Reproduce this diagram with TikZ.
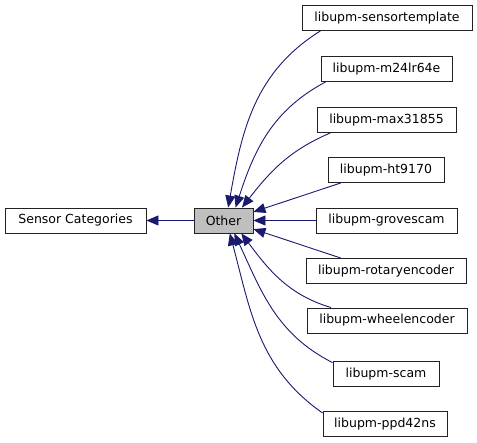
\documentclass[tikz,border=0pt]{standalone}
\usepackage{fontspec}
\setmainfont{DejaVu Sans}
\usetikzlibrary{arrows.meta}
\definecolor{edgeblue}{HTML}{191970}
\definecolor{current}{HTML}{BFBFBF}
\definecolor{boxline}{HTML}{222222}
\tikzset{
  groupbox/.style={draw=boxline, line width=0.9pt, fill=white, inner sep=0pt,
    minimum height=25pt, font=\fontsize{12.5}{15}\selectfont},
  curbox/.style={groupbox, fill=current},
  arr/.style={-{Triangle[length=12pt,width=10pt]}, line width=0.9pt, draw=edgeblue}
}
\begin{document}
\begin{tikzpicture}[x=1pt, y=-1pt]
    \useasboundingbox (0,0) rectangle (477,443);
    \node[groupbox, minimum width=141pt] (cats) at (75.5,220.5) {Sensor Categories};
    \node[curbox, minimum width=59pt] (other) at (223.5,220.5) {Other};
    \node[groupbox, minimum width=170pt] (sensortemplate) at (387,18) {libupm-sensortemplate};
    \node[groupbox, minimum width=131pt] (m24lr64e) at (386.5,69) {libupm-m24lr64e};
    \node[groupbox, minimum width=139pt] (max31855) at (386.5,120) {libupm-max31855};
    \node[groupbox, minimum width=116pt] (ht9170) at (386,170) {libupm-ht9170};
    \node[groupbox, minimum width=141pt] (grovescam) at (386.5,220.5) {libupm-grovescam};
    \node[groupbox, minimum width=160pt] (rotaryencoder) at (386,271) {libupm-rotaryencoder};
    \node[groupbox, minimum width=160pt] (wheelencoder) at (387,320.5) {libupm-wheelencoder};
    \node[groupbox, minimum width=106pt] (scam) at (386,374) {libupm-scam};
    \node[groupbox, minimum width=124pt] (ppd42ns) at (385,424) {libupm-ppd42ns};
    \draw[arr] (other) -- (cats);
    \draw[arr] (sensortemplate.191) to[out=212, in=80] (other.70);
    \draw[arr] (m24lr64e.192) to[out=208, in=72] (other.47);
    \draw[arr] (max31855.193) to[out=203, in=52] (other.35);
    \draw[arr] (ht9170.196) -- (other.16);
    \draw[arr] (grovescam) -- (other);
    \draw[arr] (rotaryencoder.164) -- (other.-16);
    \draw[arr] (wheelencoder.167) to[out=163, in=-53] (other.-36);
    \draw[arr] (scam.168) to[out=153, in=-65] (other.-50);
    \draw[arr] (ppd42ns.170) to[out=145, in=-75] (other.-64);
  \end{tikzpicture}
\end{document}
